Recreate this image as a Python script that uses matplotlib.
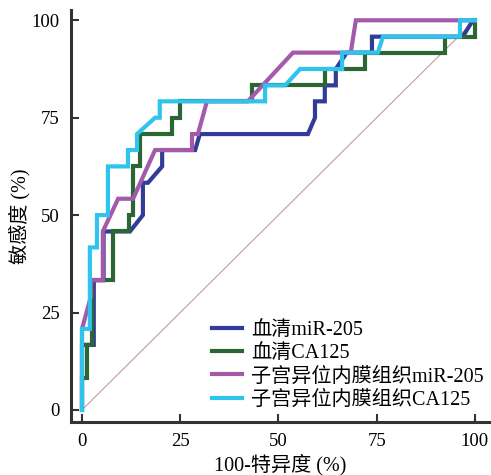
import numpy as np
import matplotlib
matplotlib.use('Agg')
import matplotlib.pyplot as plt

plt.rcParams['font.family'] = ['Liberation Serif', 'Noto Sans CJK SC']

# ROC curves: (100 - specificity, sensitivity), in %
serum_mir_x = [0, 0, 3, 3, 3, 5.5, 5.5, 12.2, 15.5, 15.5, 16.8, 20.4, 20.4, 28.8, 30, 57.5, 59.3, 59.3, 61.8, 61.8, 64.6, 64.6, 67.4, 73.8, 73.8, 96.9, 99.5, 100]
serum_mir_y = [0, 16.7, 16.7, 20.8, 33.3, 33.3, 45.8, 45.8, 50, 58.3, 58.3, 62.5, 66.7, 66.7, 70.8, 70.8, 75, 79.2, 79.2, 83.3, 83.3, 87.5, 91.7, 91.7, 95.8, 95.8, 100, 100]

serum_ca_x = [0, 0, 1.2, 1.2, 2.5, 2.5, 7.8, 7.8, 12, 12, 13, 13, 14.8, 14.8, 22.9, 22.9, 24.9, 24.9, 43.3, 43.3, 61.8, 61.8, 72, 72, 92.4, 92.4, 100, 100]
serum_ca_y = [0, 8.3, 8.3, 16.7, 16.7, 33.3, 33.3, 45.8, 45.8, 50, 50, 62.5, 62.5, 70.8, 70.8, 75, 75, 79.2, 79.2, 83.3, 83.3, 87.5, 87.5, 91.7, 91.7, 95.8, 95.8, 100]

tissue_mir_x = [0, 0, 2.3, 2.3, 5.3, 5.3, 9.2, 13, 18.6, 28, 28, 29.5, 31.8, 42.2, 53.7, 68.4, 69.7, 100]
tissue_mir_y = [0, 20.8, 29.2, 33.3, 33.3, 45.8, 54.2, 54.2, 66.7, 66.7, 70.8, 70.8, 79.2, 79.2, 91.7, 91.7, 100, 100]

tissue_ca_x = [0, 0, 2, 2, 3.8, 3.8, 6.6, 6.6, 11.7, 11.7, 14, 14, 18.6, 19.8, 19.8, 46.6, 46.6, 51.7, 55.5, 66.2, 66.2, 75.3, 76.6, 96.2, 96.2, 100]
tissue_ca_y = [0, 20.8, 20.8, 41.7, 41.7, 50, 50, 62.5, 62.5, 66.7, 66.7, 70.8, 75, 75, 79.2, 79.2, 83.3, 83.3, 87.5, 87.5, 91.7, 91.7, 95.8, 95.8, 100, 100]

labels = ['血清miR-205', '血清CA125', '子宫异位内膜组织miR-205', '子宫异位内膜组织CA125']
colors = ['#323c96', '#2b6634', '#a35aab', '#2ec4ee']
ticks = [0, 25, 50, 75, 100]

fig = plt.figure(figsize=(4.91, 4.75), dpi=100)
ax = fig.add_axes([0.1446, 0.1116, 0.853, 0.867])

ax.plot([0, 100], [0, 100], color='#c99a9a', lw=0.8, zorder=1)
curves = [(serum_mir_x, serum_mir_y), (serum_ca_x, serum_ca_y),
          (tissue_mir_x, tissue_mir_y), (tissue_ca_x, tissue_ca_y)]
for (cx, cy), c, lab in zip(curves, colors, labels):
    ax.plot(cx, cy, color=c, lw=3, label=lab, solid_joinstyle='miter', zorder=2)

ax.set_xlim(-2.8, 103.8)
ax.set_ylim(-3.1, 102.6)
ax.set_xticks(ticks)
ax.set_yticks(ticks)
ax.tick_params(direction='in', length=6, width=1.5, labelsize=13.5, color='#333333', pad=8)
for s in ['top', 'right']:
    ax.spines[s].set_visible(False)
for s in ['left', 'bottom']:
    ax.spines[s].set_linewidth(2.2)
    ax.spines[s].set_color('#333333')

ax.set_xlabel('100-特异度 (%)', fontsize=14.5, labelpad=3)
ax.set_ylabel('敏感度 (%)', fontsize=14.5, labelpad=1)

ax.legend(loc='lower left', bbox_to_anchor=(0.336, 0.03), frameon=False, fontsize=14.5,
          handlelength=1.5, handletextpad=0.45, labelspacing=0.2, borderpad=0, borderaxespad=0)

fig.savefig('out.png', dpi=100)
